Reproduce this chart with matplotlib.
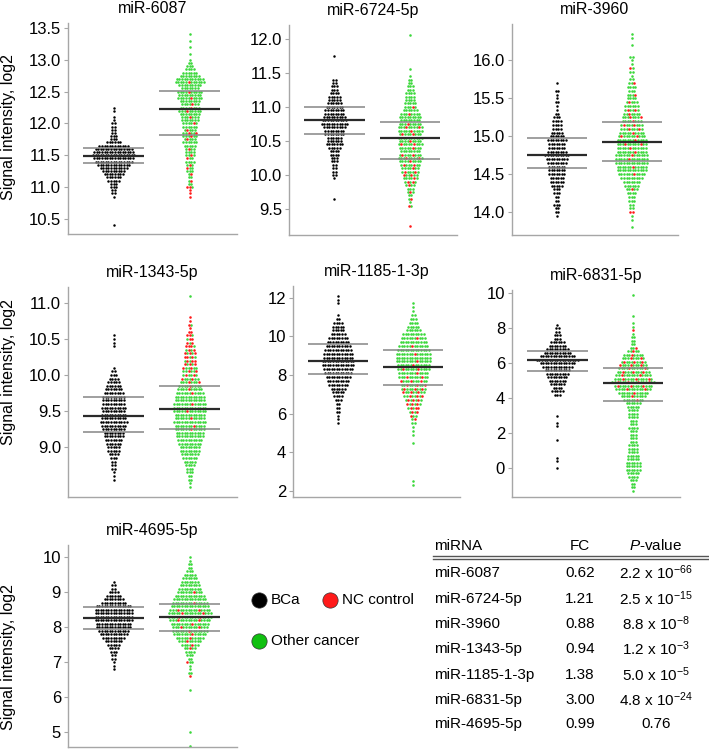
import numpy as np
import matplotlib
matplotlib.use('Agg')
import matplotlib.pyplot as plt

plt.rcParams['font.family'] = ['Liberation Sans', 'DejaVu Sans']
plt.rcParams['mathtext.fontset'] = 'custom'
plt.rcParams['mathtext.rm'] = 'Liberation Sans'
plt.rcParams['mathtext.it'] = 'Liberation Sans:italic'

# panel names and layout data
names = ['miR-6087', 'miR-6724-5p', 'miR-3960', 'miR-1343-5p',
         'miR-1185-1-3p', 'miR-6831-5p', 'miR-4695-5p']
steps = [0.05, 0.05, 0.05, 0.05, 0.2, 0.2, 0.1]

# BCa (black) dots: counts per level, starting at bca_y0
bca_y0 = [10.40, 9.65, 13.95, 8.55, 5.5, 0.0, 6.8]
bca_6087 = [1, 0, 0, 0, 0, 0, 0, 0, 0, 1, 2, 2, 3, 3, 5, 6, 8, 9, 11, 13, 15, 16, 17, 16, 15,
            12, 6, 3, 3, 2, 2, 2, 2, 1, 1, 0, 1, 1]
bca_6724 = [1, 0, 0, 0, 0, 0, 1, 2, 2, 2, 2, 3, 3, 4, 4, 5, 7, 6, 6, 8, 8, 9, 11, 10, 9, 8, 8,
            7, 6, 5, 5, 4, 3, 3, 2, 2, 0, 0, 0, 0, 0, 0, 1]
bca_3960 = [1, 2, 2, 3, 2, 2, 3, 3, 5, 6, 6, 7, 7, 7, 8, 9, 10, 8, 7, 7, 8, 6, 5, 4, 4, 4, 3,
            2, 1, 1, 2, 1, 1, 2, 0, 1]
bca_1343 = [1, 1, 1, 2, 2, 2, 3, 4, 5, 5, 6, 7, 8, 8, 9, 10, 11, 10, 10, 9, 10, 9, 9, 9, 8, 7,
            6, 5, 4, 3, 2, 1, 0, 0, 0, 0, 0, 1, 1, 1, 1]
bca_1185 = [1, 1, 1, 2, 2, 2, 3, 4, 5, 6, 8, 9, 10, 11, 12, 13, 13, 12, 12, 11, 10, 9, 8, 6,
            5, 5, 4, 2, 1, 0, 0, 1, 1, 1]
bca_6831 = [1, 0, 1, 1, 0, 0, 0, 0, 1, 0, 0, 0, 1, 1, 0, 1, 0, 0, 0, 0, 0, 3, 5, 4, 6, 7, 8,
            9, 10, 12, 14, 17, 14, 11, 9, 7, 6, 3, 3, 2, 2, 1]
bca_4695 = [1, 1, 1, 2, 2, 3, 4, 5, 7, 9, 11, 12, 14, 14, 15, 15, 15, 15, 14, 10, 8, 6, 4, 2,
            2, 1]

# non-BCa dots (other cancer + NC control) per level, and how many of them are NC control
ctl_y0 = [10.85, 9.25, 13.80, 8.45, 2.3, -1.3, 4.6]
ctl_6087 = [1, 1, 1, 3, 2, 2, 2, 2, 3, 3, 3, 4, 3, 4, 4, 4, 5, 6, 5, 6, 6, 5, 6, 6, 7, 7, 8,
            9, 8, 7, 8, 10, 9, 10, 7, 9, 12, 11, 8, 6, 4, 3, 2, 1, 0, 1, 0, 1, 0, 1, 0, 1]
nc_6087 = [1, 1, 1, 2, 0, 1, 0, 1, 0, 1, 1, 0, 1, 1, 0, 1, 0, 0, 1, 1, 2, 1, 0, 1, 0, 1, 0,
           1, 1, 1, 0, 1, 0, 1, 0, 0, 1, 0, 0, 0, 0, 0, 0, 0, 0, 0, 0, 0, 0, 0, 0, 0]
ctl_6724 = [1, 0, 0, 0, 0, 0, 2, 1, 2, 2, 3, 3, 4, 5, 6, 6, 7, 7, 8, 9, 10, 9, 8, 9, 10, 9,
            10, 9, 10, 10, 9, 8, 9, 8, 6, 5, 5, 4, 4, 4, 3, 3, 2, 2, 1, 0, 1, 0, 0, 0, 0, 0,
            0, 0, 0, 0, 1]
nc_6724 = [1, 0, 0, 0, 0, 0, 2, 0, 1, 0, 1, 0, 1, 2, 1, 2, 2, 1, 2, 1, 2, 2, 0, 1, 2, 1, 0,
           2, 1, 2, 1, 0, 0, 1, 0, 1, 0, 0, 0, 0, 0, 0, 0, 0, 0, 0, 0, 0, 0, 0, 0, 0, 0, 0,
           0, 0, 0]
ctl_3960 = [1, 0, 1, 1, 2, 2, 2, 3, 3, 4, 5, 6, 7, 9, 11, 12, 12, 13, 13, 13, 12, 12, 12, 12,
            11, 10, 9, 9, 8, 8, 7, 6, 6, 5, 4, 4, 3, 4, 3, 2, 1, 2, 2, 1, 1, 2, 0, 0, 1, 0,
            1, 1]
nc_3960 = [0, 0, 0, 0, 2, 0, 0, 0, 0, 0, 1, 0, 0, 0, 1, 0, 1, 0, 1, 1, 1, 1, 2, 1, 2, 1, 2,
           2, 1, 2, 1, 2, 0, 1, 0, 1, 0, 0, 1, 0, 0, 0, 1, 0, 0, 0, 0, 0, 0, 0, 0, 0]
ctl_1343 = [1, 1, 2, 2, 3, 3, 4, 5, 6, 7, 8, 8, 9, 10, 11, 11, 12, 12, 13, 12, 12, 13, 13, 13,
            12, 12, 11, 10, 9, 8, 7, 6, 6, 6, 5, 5, 5, 5, 4, 4, 3, 3, 3, 2, 1, 2, 1, 1, 0, 0,
            0, 0, 0, 1]
nc_1343 = [0, 0, 0, 0, 0, 0, 0, 0, 0, 0, 0, 0, 0, 0, 0, 0, 1, 1, 0, 1, 0, 1, 0, 1, 0, 0, 1,
           1, 1, 2, 2, 2, 2, 2, 3, 3, 3, 3, 3, 3, 2, 2, 2, 2, 1, 1, 1, 1, 0, 0, 0, 0, 0, 0]
ctl_1185 = [1, 1, 0, 0, 0, 0, 0, 0, 0, 0, 0, 1, 0, 1, 1, 1, 2, 2, 3, 4, 5, 6, 7, 8, 9, 10, 10,
            11, 12, 12, 13, 13, 14, 14, 14, 13, 12, 11, 10, 9, 6, 5, 4, 3, 2, 1, 1, 1]
nc_1185 = [0, 0, 0, 0, 0, 0, 0, 0, 0, 0, 0, 0, 0, 0, 0, 0, 0, 1, 1, 2, 3, 3, 3, 3, 3, 3, 3,
           3, 2, 1, 2, 1, 1, 0, 1, 0, 1, 0, 1, 0, 0, 0, 0, 0, 0, 0, 0, 0]
ctl_6831 = [1, 2, 2, 3, 4, 5, 6, 6, 6, 5, 5, 4, 4, 4, 3, 3, 3, 3, 4, 3, 3, 4, 4, 4, 5, 6, 8,
            10, 12, 14, 15, 17, 15, 14, 13, 12, 11, 10, 9, 8, 5, 3, 2, 2, 2, 1, 1, 1, 1, 0,
            1, 0, 0, 0, 0, 0, 1]
nc_6831 = [0] * 26 + [1, 1, 1, 2, 3, 4, 3, 2, 3, 2, 3, 3, 2, 1, 1, 1, 0, 0, 0, 0, 1] + [0] * 10
ctl_4695 = [1, 0, 0, 0, 1, 0, 0, 0, 0, 0, 0, 0, 0, 0, 0, 0, 1, 0, 0, 0, 1, 2, 1, 1, 3, 2, 3,
            4, 5, 7, 9, 11, 13, 14, 14, 15, 16, 17, 17, 16, 15, 14, 13, 12, 10, 9, 8, 7, 6,
            5, 3, 2, 2, 1, 1]
nc_4695 = [0] * 20 + [1, 0, 0, 0, 1, 0, 0, 0, 1, 1, 1, 1, 1, 1, 2, 1, 2, 2, 2, 2, 0, 1, 0, 0,
                      1] + [0] * 10

bca_counts = [bca_6087, bca_6724, bca_3960, bca_1343, bca_1185, bca_6831, bca_4695]
ctl_counts = [ctl_6087, ctl_6724, ctl_3960, ctl_1343, ctl_1185, ctl_6831, ctl_4695]
nc_counts = [nc_6087, nc_6724, nc_3960, nc_1343, nc_1185, nc_6831, nc_4695]

# horizontal summary lines (middle, upper, lower)
bca_mid = [11.48, 10.80, 14.76, 9.43, 8.72, 6.17, 8.25]
bca_hi = [11.61, 11.00, 14.98, 9.69, 9.60, 6.69, 8.58]
bca_lo = [11.37, 10.60, 14.58, 9.21, 8.05, 5.57, 7.96]
ctl_mid = [12.22, 10.55, 14.92, 9.53, 8.43, 4.89, 8.29]
ctl_hi = [12.51, 10.78, 15.19, 9.85, 9.29, 5.73, 8.67]
ctl_lo = [11.81, 10.24, 14.68, 9.25, 7.46, 3.85, 7.89]

ylims = [(10.26, 13.58), (9.12, 12.2), (13.70, 16.48), (8.31, 11.22),
         (1.69, 12.6), (-1.65, 10.19), (4.57, 10.35)]
yticks = [[10.5, 11.0, 11.5, 12.0, 12.5, 13.0, 13.5],
          [9.5, 10.0, 10.5, 11.0, 11.5, 12.0],
          [14.0, 14.5, 15.0, 15.5, 16.0],
          [9.0, 9.5, 10.0, 10.5, 11.0],
          [2, 4, 6, 8, 10, 12],
          [0, 2, 4, 6, 8, 10],
          [5, 6, 7, 8, 9, 10]]
tick_fmt = ['%.1f', '%.1f', '%.1f', '%.1f', '%d', '%d', '%d']

# table
tab_mirna = names
tab_fc = ['0.62', '1.21', '0.88', '0.94', '1.38', '3.00', '0.99']
tab_p = [r'2.2 x 10$^{-66}$', r'2.5 x 10$^{-15}$', r'8.8 x 10$^{-8}$', r'1.2 x 10$^{-3}$',
         r'5.0 x 10$^{-5}$', r'4.8 x 10$^{-24}$', '0.76']

BLACK = '#000000'
GREEN = '#3cd83c'
RED = '#ff1a1a'
DX = 0.034

W, H = 709, 756
# axes boxes in pixels: left, top, right, bottom
boxes = [(68, 23, 237, 234), (289, 25, 457, 235), (512, 24, 678, 235),
         (68, 287, 237, 497), (293, 286, 460, 497), (512, 290, 680, 497),
         (68, 545, 237, 747)]


def row_x(n):
    return (np.arange(n) - (n - 1) / 2.0) * DX


def draw_bca(ax, xc, y0, step, counts):
    xs, ys = [], []
    for k, n in enumerate(counts):
        if n == 0:
            continue
        xs.extend(xc + row_x(n))
        ys.extend([y0 + k * step] * n)
    ax.scatter(xs, ys, s=3.2, c=BLACK, lw=0, zorder=2)


def draw_ctl(ax, xc, y0, step, counts, reds):
    gx, gy, rx, ry = [], [], [], []
    for k, n in enumerate(counts):
        if n == 0:
            continue
        y = y0 + k * step
        offs = xc + row_x(n)
        r = min(reds[k], n)
        red_idx = set()
        for j in range(r):
            i = int((j + 0.5) * n / r) + (k % 3 - 1)
            red_idx.add(min(max(i, 0), n - 1))
        for i in range(n):
            if i in red_idx:
                rx.append(offs[i]); ry.append(y)
            else:
                gx.append(offs[i]); gy.append(y)
    ax.scatter(gx, gy, s=3.4, c=GREEN, lw=0, zorder=2)
    ax.scatter(rx, ry, s=3.4, c=RED, lw=0, zorder=2)


fig = plt.figure(figsize=(W / 100, H / 100), dpi=100)

for p in range(7):
    l, t, r, b = boxes[p]
    ax = fig.add_axes([l / W, 1 - b / H, (r - l) / W, (b - t) / H])
    draw_bca(ax, 1, bca_y0[p], steps[p], bca_counts[p])
    draw_ctl(ax, 2, ctl_y0[p], steps[p], ctl_counts[p], nc_counts[p])
    for xc, vals in ((1, (bca_mid, bca_hi, bca_lo)), (2, (ctl_mid, ctl_hi, ctl_lo))):
        ax.hlines(vals[0][p], xc - 0.4, xc + 0.4, color='#2a2a2a', lw=1.6, zorder=3)
        ax.hlines([vals[1][p], vals[2][p]], xc - 0.4, xc + 0.4, color='#858585', lw=1.1, zorder=3)
    ax.set_xlim(0.4, 2.62)
    ax.set_ylim(*ylims[p])
    ax.set_yticks(yticks[p])
    ax.set_yticklabels([tick_fmt[p] % v for v in yticks[p]], fontsize=12)
    ax.set_xticks([])
    for s in ('top', 'right'):
        ax.spines[s].set_visible(False)
    for s in ('left', 'bottom'):
        ax.spines[s].set_color('#a6a6a6')
        ax.spines[s].set_linewidth(1.0)
    ax.tick_params(axis='y', length=3, width=0.8, color='#a6a6a6', pad=2)
    ax.set_title(names[p], fontsize=11.5, pad=7)

for yc in (127, 372, 657):
    fig.text(9 / W, 1 - yc / H, 'Signal intensity, log2', rotation=90,
             ha='center', va='center', fontsize=11.5)

# legend and table drawn in pixel coordinates
ov = fig.add_axes([0, 0, 1, 1], zorder=5)
ov.set_xlim(0, W)
ov.set_ylim(H, 0)
ov.axis('off')
for (mx, my), col, lab in (((259, 600), BLACK, 'BCa'), ((330, 600), RED, 'NC control'),
                           ((259, 641), '#10c010', 'Other cancer')):
    ov.plot(mx, my, 'o', ms=11, color=col, mec='#333333', mew=0.5)
    ov.text(mx + 12, my, lab, fontsize=11, va='center', ha='left')

ov.text(434, 546, 'miRNA', fontsize=11, va='center', ha='left')
ov.text(580, 546, 'FC', fontsize=11, va='center', ha='center')
ov.text(656, 546, r'$\it{P}$-value', fontsize=11, va='center', ha='center')
ov.plot([433, 709], [556, 556], color='#555555', lw=1)
ov.plot([433, 709], [558.5, 558.5], color='#555555', lw=1)
row_y = [573, 599, 624, 649, 675, 700, 724]
for i in range(len(tab_mirna)):
    ov.text(434, row_y[i], tab_mirna[i], fontsize=11, va='center', ha='left')
    ov.text(580, row_y[i], tab_fc[i], fontsize=11, va='center', ha='center')
    ov.text(656, row_y[i], tab_p[i], fontsize=11, va='center', ha='center')

plt.savefig('out.png', dpi=100)
plt.close()
